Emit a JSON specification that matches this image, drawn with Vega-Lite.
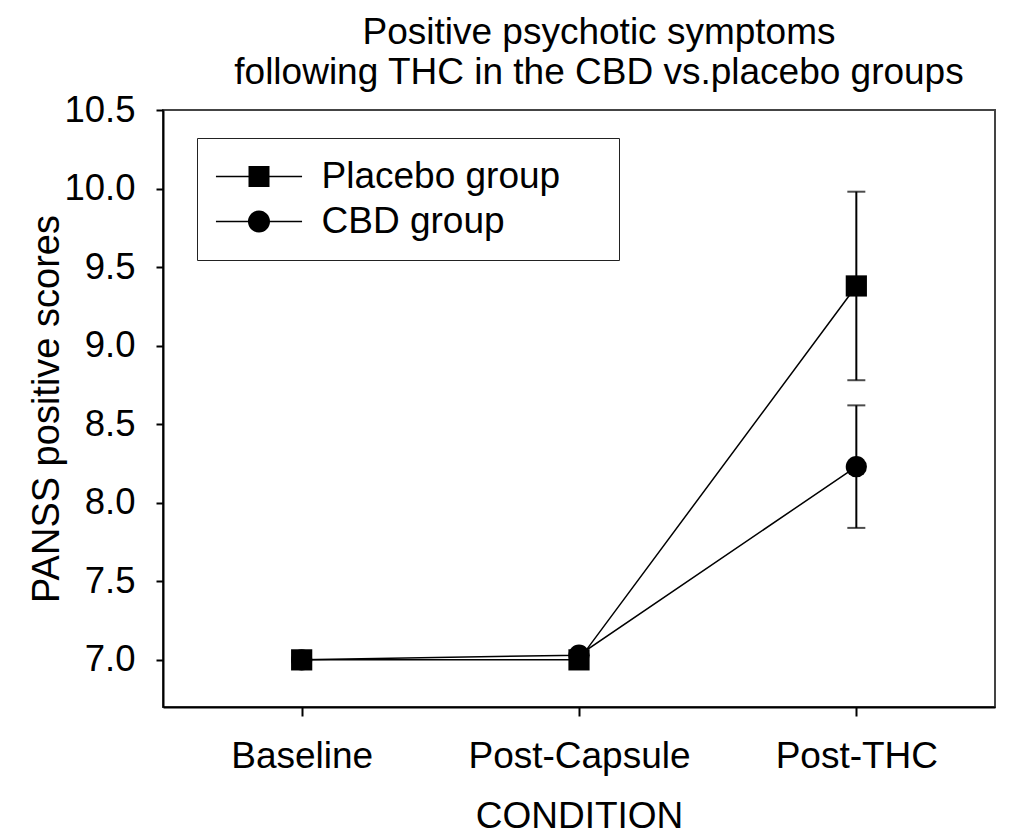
{
  "$schema": "https://vega.github.io/schema/vega-lite/v6.json",
  "width": 832,
  "height": 597,
  "autosize": {"type": "none"},
  "padding": {"left": 163, "top": 110, "right": 36, "bottom": 132},
  "background": "white",
  "title": {
    "text": ["Positive psychotic symptoms", "following THC in the CBD vs.placebo groups"],
    "fontSize": 37,
    "fontWeight": "normal",
    "lineHeight": 40,
    "anchor": "middle",
    "dx": 20,
    "offset": 0,
    "color": "black"
  },
  "data": {
    "values": [
      {"condition": "Baseline", "group": "CBD group", "score": 7.0},
      {"condition": "Post-Capsule", "group": "CBD group", "score": 7.03},
      {"condition": "Post-THC", "group": "CBD group", "score": 8.23, "lower": 7.84, "upper": 8.62},
      {"condition": "Baseline", "group": "Placebo group", "score": 7.0},
      {"condition": "Post-Capsule", "group": "Placebo group", "score": 7.0},
      {"condition": "Post-THC", "group": "Placebo group", "score": 9.38, "lower": 8.78, "upper": 9.98}
    ]
  },
  "encoding": {
    "x": {
      "field": "condition",
      "type": "nominal",
      "sort": ["Baseline", "Post-Capsule", "Post-THC"],
      "scale": {"type": "point", "padding": 0.5},
      "title": "CONDITION",
      "axis": {
        "labelAngle": 0,
        "labelLimit": 0,
        "tickSize": 9,
        "tickWidth": 2,
        "tickColor": "black",
        "labelPadding": 22,
        "labelFontSize": 37,
        "labelColor": "black",
        "titleFontSize": 37,
        "titleFontWeight": "normal",
        "titleColor": "black",
        "titlePadding": 24,
        "domainColor": "black",
        "domainWidth": 2,
        "grid": false
      }
    }
  },
  "layer": [
    {
      "mark": {"type": "line", "color": "black", "strokeWidth": 1.5},
      "encoding": {
        "y": {
          "field": "score",
          "type": "quantitative",
          "scale": {"domain": [6.7, 10.5], "zero": false, "nice": false},
          "title": "PANSS positive scores",
          "axis": {
            "values": [7.0, 7.5, 8.0, 8.5, 9.0, 9.5, 10.0, 10.5],
            "format": ".1f",
            "tickSize": 7,
            "tickWidth": 2,
            "tickColor": "black",
            "labelPadding": 21,
            "labelFontSize": 36.5,
            "labelColor": "black",
            "labelFlush": false,
            "labelOverlap": false,
            "titleFontSize": 38,
            "titleFontWeight": "normal",
            "titleColor": "black",
            "titlePadding": -3,
            "domainColor": "black",
            "domainWidth": 2,
            "grid": false
          }
        },
        "detail": {"field": "group"}
      }
    },
    {
      "transform": [{"filter": "isValid(datum.lower)"}],
      "mark": {"type": "rule", "color": "black", "strokeWidth": 2},
      "encoding": {
        "y": {"field": "lower", "type": "quantitative"},
        "y2": {"field": "upper"}
      }
    },
    {
      "transform": [{"filter": "isValid(datum.lower)"}],
      "mark": {"type": "tick", "orient": "horizontal", "color": "black", "size": 18, "thickness": 2},
      "encoding": {"y": {"field": "lower", "type": "quantitative"}}
    },
    {
      "transform": [{"filter": "isValid(datum.upper)"}],
      "mark": {"type": "tick", "orient": "horizontal", "color": "black", "size": 18, "thickness": 2},
      "encoding": {"y": {"field": "upper", "type": "quantitative"}}
    },
    {
      "mark": {"type": "point", "filled": true, "color": "black", "opacity": 1, "size": 450},
      "encoding": {
        "y": {"field": "score", "type": "quantitative"},
        "shape": {
          "field": "group",
          "type": "nominal",
          "scale": {"domain": ["Placebo group", "CBD group"], "range": ["square", "circle"]},
          "legend": null
        }
      }
    },
    {
      "mark": {"type": "point", "filled": true, "color": "black", "opacity": 0, "size": 441},
      "encoding": {
        "y": {"field": "score", "type": "quantitative"},
        "shape": {
          "field": "group",
          "type": "nominal",
          "scale": {
            "domain": ["Placebo group", "CBD group"],
            "range": [
              "M-4.1,-0.08H4.1V0.08H-4.1ZM-1,-1H1V1H-1Z",
              "M-4.1,-0.08H4.1V0.08H-4.1ZM-1.05,0A1.05,1.05,0,1,1,1.05,0A1.05,1.05,0,1,1,-1.05,0Z"
            ]
          },
          "legend": {
            "orient": "none",
            "legendX": 34,
            "legendY": 28,
            "title": " ",
            "titleOrient": "right",
            "titlePadding": 39,
            "titleFontSize": 37,
            "padding": 20,
            "strokeColor": "#222",
            "fillColor": "white",
            "labelFontSize": 37,
            "labelColor": "black",
            "labelLimit": 0,
            "labelOffset": 44,
            "symbolOffset": 23.5,
            "symbolSize": 441,
            "symbolFillColor": "black",
            "symbolOpacity": 1,
            "rowPadding": 7
          }
        }
      }
    }
  ],
  "resolve": {"scale": {"shape": "independent"}, "legend": {"shape": "independent"}},
  "config": {
    "font": "Liberation Sans",
    "view": {"stroke": "#444", "strokeWidth": 2}
  }
}
